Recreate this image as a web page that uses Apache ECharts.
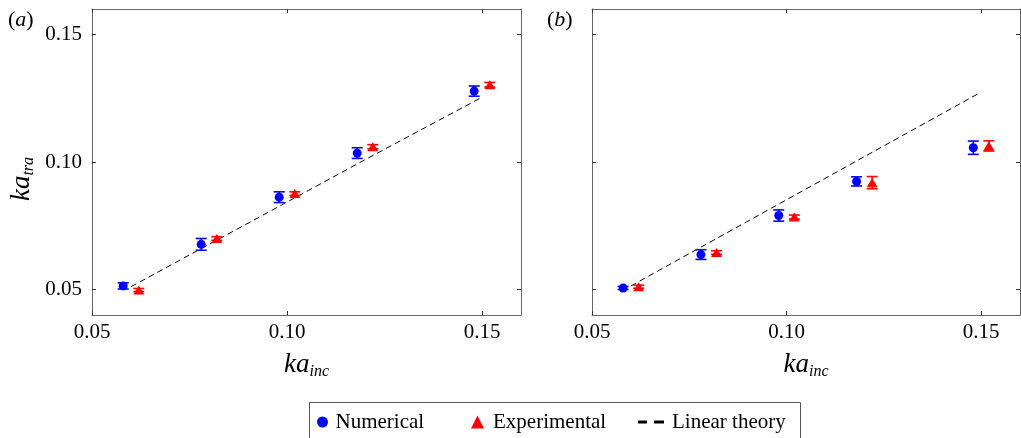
<!DOCTYPE html>
<html>
<head>
<meta charset="utf-8">
<script src="https://cdn.jsdelivr.net/npm/echarts@6/dist/echarts.min.js"></script>
<style>
html,body{margin:0;padding:0;background:#fff;}
#chart{width:1021px;height:438px;}
</style>
</head>
<body>
<div id="chart"></div>
<script>
// ---- data ----
const xTicks = [0.05, 0.10, 0.15];
const yTicks = [0.05, 0.10, 0.15];
const kaNum = [0.058, 0.078, 0.098, 0.118, 0.148];
const kaExp = [0.062, 0.082, 0.102, 0.122, 0.152];
const kaLin = [0.06, 0.08, 0.10, 0.12, 0.15];

// panel (a)
const aNum = [0.0514, 0.0677, 0.0862, 0.1035, 0.1278];
const aNumErr = [0.0012, 0.0023, 0.0021, 0.0021, 0.0020];
const aExp = [0.0498, 0.0700, 0.0876, 0.1060, 0.1303];
const aExpErr = [0.0006, 0.0007, 0.0007, 0.0008, 0.0009];
const aLin = [0.0511, 0.0677, 0.0843, 0.1009, 0.1254];

// panel (b)
const bNum = [0.0506, 0.0637, 0.0790, 0.0924, 0.1056];
const bNumErr = [0.0006, 0.0019, 0.0022, 0.0018, 0.0026];
const bExp = [0.0511, 0.0645, 0.0784, 0.0919, 0.1063];
const bExpErr = [0.0006, 0.0007, 0.0008, 0.0024, 0.0020];
const bLin = [0.0514, 0.0683, 0.0852, 0.1021, 0.1274];

// ---- styling ----
const FONT = 'Liberation Serif';
const BLUE = '#0000ff';
const RED = '#ff0000';
const AXC = '#666666';

const chart = echarts.init(document.getElementById('chart'), null, {renderer: 'canvas'});

function pts(xs, ys) { return xs.map((x, i) => [x, ys[i]]); }
function errPts(xs, ys, es) { return xs.map((x, i) => [x, ys[i] - es[i], ys[i] + es[i]]); }

function errRender(params, api) {
  const x = api.value(0), lo = api.value(1), hi = api.value(2);
  const p0 = api.coord([x, lo]);
  const p1 = api.coord([x, hi]);
  const hw = 5.5;
  const style = {stroke: api.visual('color'), lineWidth: 1.6};
  return {
    type: 'group',
    children: [
      {type: 'line', shape: {x1: p0[0], y1: p0[1], x2: p1[0], y2: p1[1]}, style: style},
      {type: 'line', shape: {x1: p0[0] - hw, y1: p0[1], x2: p0[0] + hw, y2: p0[1]}, style: style},
      {type: 'line', shape: {x1: p1[0] - hw, y1: p1[1], x2: p1[0] + hw, y2: p1[1]}, style: style}
    ]
  };
}

const nameRich = {
  k: {fontSize: 27, fontStyle: 'italic', fontFamily: FONT, color: '#000', lineHeight: 30},
  s: {fontSize: 16, fontStyle: 'italic', fontFamily: FONT, color: '#000', lineHeight: 16, padding: [12, 0, 0, 0], verticalAlign: 'bottom'}
};

function xAxes(gi) {
  return [
    {
      type: 'value', gridIndex: gi, position: 'bottom', min: 0.05, max: 0.16,
      axisLine: {show: true, onZero: false, lineStyle: {color: AXC, width: 1}},
      axisTick: {show: true, inside: true, length: 4, customValues: xTicks, lineStyle: {color: '#333'}},
      axisLabel: {customValues: xTicks, formatter: v => v.toFixed(2), margin: 7, fontSize: 21, fontFamily: FONT, color: '#000', lineHeight: 21},
      splitLine: {show: false},
      name: '{k|ka}{s|inc}', nameLocation: 'middle', nameGap: 35,
      nameTextStyle: {rich: nameRich}
    },
    {
      type: 'value', gridIndex: gi, position: 'top', min: 0.05, max: 0.16,
      axisLine: {show: true, onZero: false, lineStyle: {color: AXC, width: 1}},
      axisTick: {show: true, inside: true, length: 4, customValues: xTicks, lineStyle: {color: '#333'}},
      axisLabel: {show: false},
      splitLine: {show: false}
    }
  ];
}

function yAxes(gi, withLabels) {
  const left = {
    type: 'value', gridIndex: gi, position: 'left', min: 0.04, max: 0.16,
    axisLine: {show: true, onZero: false, lineStyle: {color: AXC, width: 1}},
    axisTick: {show: true, inside: true, length: 4, customValues: yTicks, lineStyle: {color: '#333'}},
    axisLabel: {show: withLabels, customValues: yTicks, formatter: v => v.toFixed(2), margin: 10, fontSize: 21, fontFamily: FONT, color: '#000'},
    splitLine: {show: false}
  };
  if (withLabels) {
    left.name = '{k|ka}{s|tra}';
    left.nameLocation = 'middle';
    left.nameGap = 55;
    left.nameTextStyle = {rich: nameRich, padding: [0, 34, 0, 0]};
  }
  const right = {
    type: 'value', gridIndex: gi, position: 'right', min: 0.04, max: 0.16,
    axisLine: {show: true, onZero: false, lineStyle: {color: AXC, width: 1}},
    axisTick: {show: true, inside: true, length: 4, customValues: yTicks, lineStyle: {color: '#333'}},
    axisLabel: {show: false},
    splitLine: {show: false}
  };
  return [left, right];
}

function panelSeries(gi, num, numErr, exp, expErr, lin) {
  const xi = gi * 2, yi = gi * 2;
  return [
    {
      name: 'Linear theory', type: 'line', xAxisIndex: xi, yAxisIndex: yi,
      data: pts(kaLin, lin), symbol: 'none', color: '#000',
      lineStyle: {color: '#000', width: 1, type: [6, 4]}, z: 2, silent: true
    },
    {
      name: 'numErr' + gi, type: 'custom', xAxisIndex: xi, yAxisIndex: yi,
      data: errPts(kaNum, num, numErr), renderItem: errRender, color: BLUE,
      encode: {x: 0, y: [1, 2]}, z: 3, silent: true
    },
    {
      name: 'expErr' + gi, type: 'custom', xAxisIndex: xi, yAxisIndex: yi,
      data: errPts(kaExp, exp, expErr), renderItem: errRender, color: RED,
      encode: {x: 0, y: [1, 2]}, z: 3, silent: true
    },
    {
      name: 'Numerical', type: 'scatter', xAxisIndex: xi, yAxisIndex: yi,
      data: pts(kaNum, num), symbol: 'circle', symbolSize: 9,
      itemStyle: {color: BLUE, opacity: 1}, color: BLUE, z: 4, silent: true
    },
    {
      name: 'Experimental', type: 'scatter', xAxisIndex: xi, yAxisIndex: yi,
      data: pts(kaExp, exp), symbol: 'triangle', symbolSize: [11, 9],
      itemStyle: {color: RED, opacity: 1}, color: RED, z: 4, silent: true
    }
  ];
}

const legendText = {fontSize: 21, fontFamily: FONT, color: '#000', lineHeight: 22};

const option = {
  backgroundColor: '#fff',
  animation: false,
  grid: [
    {left: 92, top: 9, width: 429, height: 306},
    {left: 592, top: 9, width: 428, height: 306}
  ],
  xAxis: [...xAxes(0), ...xAxes(1)],
  yAxis: [...yAxes(0, true), ...yAxes(1, false)],
  legend: [
    {
      left: 317, top: 411, padding: 0, itemWidth: 16, itemHeight: 11, selectedMode: false,
      data: [{name: 'Numerical', icon: 'circle', itemStyle: {color: BLUE, opacity: 1, borderWidth: 0}}],
      textStyle: legendText
    },
    {
      left: 471, top: 411, padding: 0, itemWidth: 13, itemHeight: 13, selectedMode: false,
      data: [{name: 'Experimental', icon: 'triangle', itemStyle: {color: RED, opacity: 1, borderWidth: 0}}],
      textStyle: Object.assign({}, legendText, {padding: [0, 0, 0, 4]})
    },
    {
      left: 638, top: 411, padding: 0, itemWidth: 26, itemHeight: 3, selectedMode: false,
      data: [{name: 'Linear theory', icon: 'path://M0,0H9V3H0Z M16,0H26V3H16Z', itemStyle: {color: '#000', opacity: 1, borderWidth: 0}}],
      textStyle: Object.assign({}, legendText, {padding: [0, 0, 0, 3]})
    }
  ],
  graphic: [
    {
      type: 'rect', left: 307, top: 400, shape: {x: 0, y: 0, width: 491, height: 60},
      style: {fill: 'none', stroke: '#555', lineWidth: 1}, silent: true
    },
    {
      type: 'text', left: 8, top: 9,
      style: {
        text: '{r|(}{i|a}{r|)}',
        rich: {
          r: {fontSize: 22, fontFamily: FONT, fill: '#000'},
          i: {fontSize: 22, fontFamily: FONT, fontStyle: 'italic', fill: '#000'}
        }
      }
    },
    {
      type: 'text', left: 547, top: 9,
      style: {
        text: '{r|(}{i|b}{r|)}',
        rich: {
          r: {fontSize: 22, fontFamily: FONT, fill: '#000'},
          i: {fontSize: 22, fontFamily: FONT, fontStyle: 'italic', fill: '#000'}
        }
      }
    }
  ],
  series: [
    ...panelSeries(0, aNum, aNumErr, aExp, aExpErr, aLin),
    ...panelSeries(1, bNum, bNumErr, bExp, bExpErr, bLin)
  ]
};

chart.setOption(option);
</script>
</body>
</html>
